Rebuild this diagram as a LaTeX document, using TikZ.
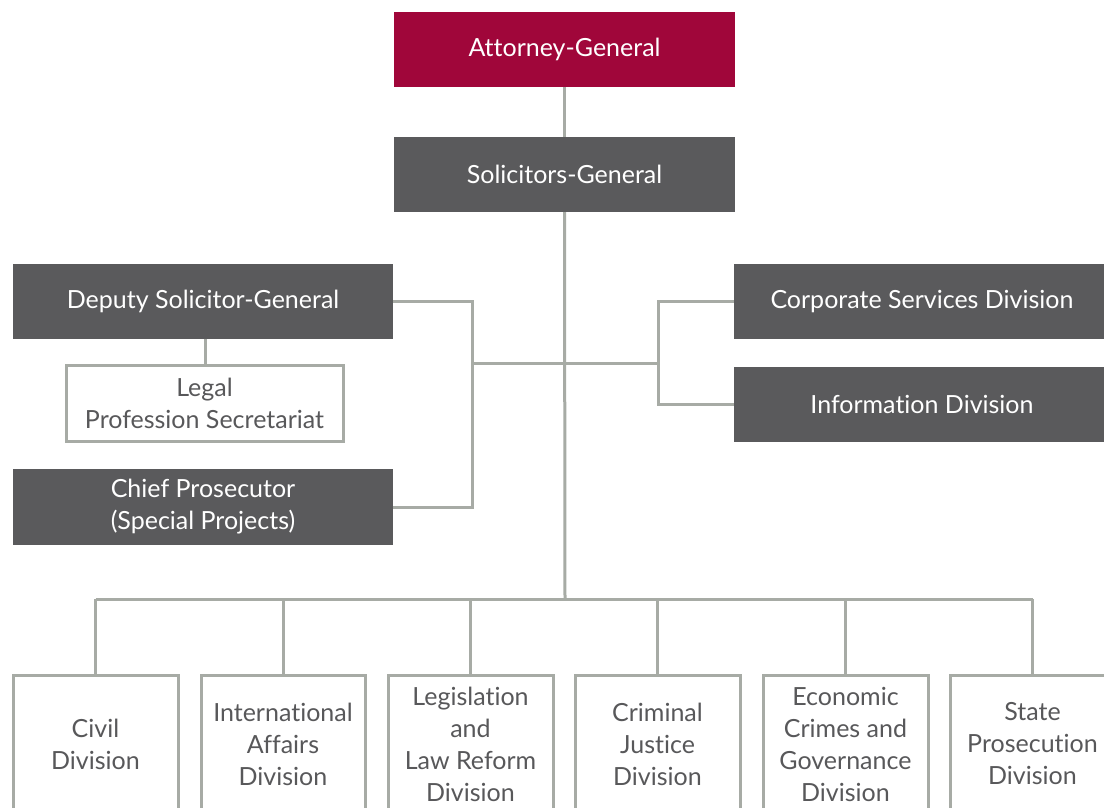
\documentclass[tikz,border=0pt]{standalone}
\usepackage{fontspec}
\setmainfont[Ligatures=NoCommon]{Lato}
\definecolor{crimson}{HTML}{A0063A}
\definecolor{boxgray}{HTML}{5A5A5C}
\definecolor{linegray}{HTML}{A7ABA5}
\definecolor{txtgray}{HTML}{58585A}
\begin{document}
\begin{tikzpicture}[x=1pt,y=-1pt,
  base/.style={rectangle,inner sep=0pt,align=center,font=\fontsize{25}{32}\selectfont},
  redbox/.style={base,fill=crimson,text=white},
  darkbox/.style={base,fill=boxgray,text=white},
  whitebox/.style={base,fill=white,draw=linegray,line width=3pt,text=txtgray},
  conn/.style={draw=linegray,line width=3pt}]
\useasboundingbox (0,0) rectangle (1104,808);
\clip (0,0) rectangle (1104,808);
\fill[white] (0,0) rectangle (1104,808);
% top
\node[redbox,minimum width=341pt,minimum height=75pt] (ag) at (564.5,49.5) {Attorney-General};
\node[darkbox,minimum width=341pt,minimum height=75pt] (sg) at (564.5,174.5) {Solicitors-General};
% left
\node[darkbox,minimum width=380pt,minimum height=75pt] (dsg) at (203,301.5) {Deputy Solicitor-General};
\node[whitebox,minimum width=277pt,minimum height=76pt] (lps) at (204.5,403) {Legal\\Profession Secretariat};
\node[darkbox,minimum width=380pt,minimum height=76pt] (cp) at (203,507) {Chief Prosecutor\\(Special Projects)};
% right
\node[darkbox,minimum width=376pt,minimum height=75pt] (csd) at (922,301.5) {Corporate Services Division};
\node[darkbox,minimum width=376pt,minimum height=75pt] (info) at (922,404.5) {Information Division};
% bottom
\node[whitebox,minimum width=165pt,minimum height=138pt] (civ) at (95.5,744) {Civil\\Division};
\node[whitebox,minimum width=164pt,minimum height=138pt] (int) at (283,744) {International\\Affairs\\Division};
\node[whitebox,minimum width=165pt,minimum height=138pt] (leg) at (470.5,744) {Legislation\\and\\Law Reform\\Division};
\node[whitebox,minimum width=165pt,minimum height=138pt] (crim) at (657.5,744) {Criminal\\Justice\\Division};
\node[whitebox,minimum width=165pt,minimum height=138pt] (eco) at (845.5,744) {Economic\\Crimes and\\Governance\\Division};
\node[whitebox,minimum width=165pt,minimum height=138pt] (sta) at (1032.5,744) {State\\Prosecution\\Division};
% connectors
\coordinate (lj) at (472,363);
\coordinate (rj) at (658,363);
\coordinate (bus) at (565,599);
\draw[conn] (ag.south) -- (sg.north);
\draw[conn] (sg.south) -- (bus);
\draw[conn] (dsg.east) -| (lj) |- (cp.east);
\draw[conn] (lj) -- (rj);
\draw[conn] (csd.west) -| (rj) |- (info.west);
\draw[conn] (lps.north -| 205,0) -- (dsg.south -| 205,0);
\draw[conn] (civ.north |- bus) -- (sta.north |- bus);
\foreach \b in {civ,int,leg,crim,eco,sta}{
  \draw[conn] (\b.north) -- (\b.north |- bus);
}
\end{tikzpicture}
\end{document}
